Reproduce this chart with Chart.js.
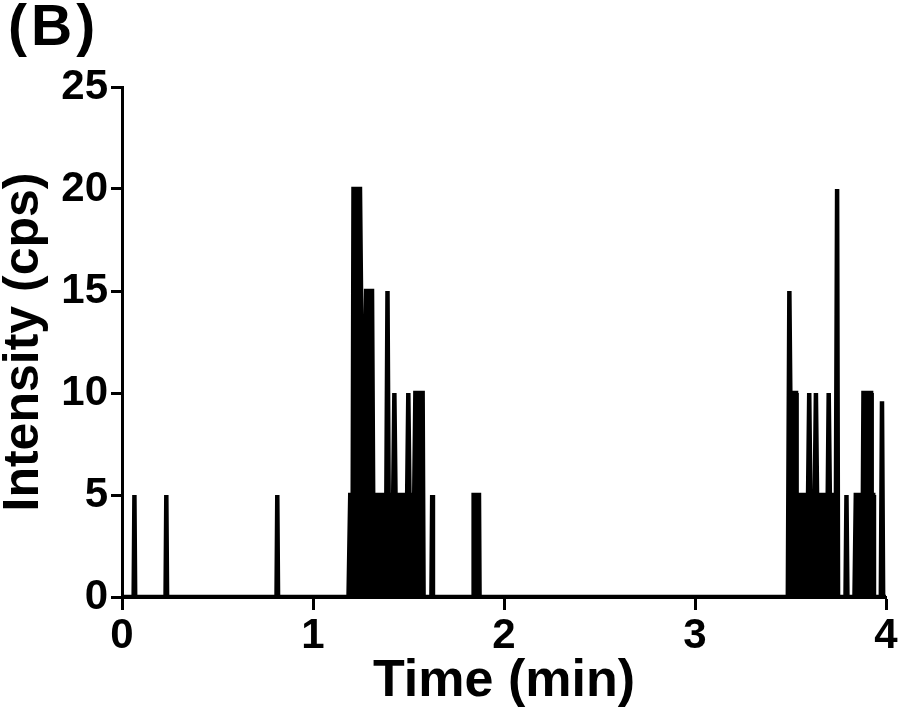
<!DOCTYPE html>
<html>
<head>
<meta charset="utf-8">
<title>Intensity vs time</title>
<script src="https://cdn.jsdelivr.net/npm/chart.js@4.4.1/dist/chart.umd.min.js"></script>
<style>
  html, body { margin: 0; padding: 0; background: #fff; }
  #wrap { width: 900px; height: 727px; }
</style>
</head>
<body>
<div id="wrap"><canvas id="trace" width="900" height="727"></canvas></div>
<script>
// Time (min) and intensity (cps), point by point
var timeMin = [
    0,
    0.061, 0.065, 0.069,
    0.228, 0.232, 0.236,
    0.809, 0.813, 0.817,
    1.186, 1.195, 1.208, 1.212, 1.246, 1.262, 1.278, 1.309, 1.315, 1.384, 1.390,
    1.396, 1.420, 1.426, 1.432, 1.493, 1.499, 1.505, 1.530, 1.536, 1.574, 1.579,
    1.620, 1.624, 1.628,
    1.838, 1.841, 1.869, 1.872,
    3.486, 3.494, 3.499, 3.529, 3.532, 3.592, 3.598, 3.604, 3.627, 3.633, 3.639,
    3.695, 3.700, 3.706, 3.738, 3.744, 3.749, 3.788, 3.793, 3.798, 3.835, 3.842,
    3.879, 3.882, 3.922, 3.925, 3.933, 3.937,
    3.973, 3.979, 3.985,
    4.0
];
var intensityCps = [
    0,
    0, 5, 0,
    0, 5, 0,
    0, 5, 0,
    0, 5, 5, 20, 20, 5, 15, 15, 5, 5, 15,
    5, 5, 10, 5, 5, 10, 5, 5, 10, 10, 0,
    0, 5, 0,
    0, 5, 5, 0,
    0, 15, 10, 10, 5, 5, 10, 5, 5, 10, 5,
    5, 10, 5, 5, 20, 0, 0, 5, 0, 0, 5,
    5, 10, 10, 5, 5, 0,
    0, 9.6, 0,
    0
];
var xTicks = [0, 1, 2, 3, 4];
var yTicks = [0, 5, 10, 15, 20, 25];
var panelText = '(B)';

var FONT = '"Liberation Sans", Arial, Helvetica, sans-serif';

// panel letter in the top left corner
var panelLabel = {
    id: 'panelLabel',
    afterDraw: function(chart) {
        var ctx = chart.ctx;
        ctx.save();
        ctx.font = 'bold 57px ' + FONT;
        ctx.letterSpacing = '4px';
        ctx.fillStyle = '#000';
        ctx.textBaseline = 'top';
        ctx.textAlign = 'left';
        ctx.fillText(panelText, 8, 1);
        ctx.restore();
    }
};

var points = timeMin.map(function(t, i) {
    return { x: t, y: intensityCps[i] };
});

new Chart(document.getElementById('trace'), {
    type: 'line',
    data: {
        datasets: [{
            data: points,
            borderColor: '#000',
            backgroundColor: '#000',
            borderWidth: 4.5,
            fill: 'origin',
            pointRadius: 0,
            tension: 0
        }]
    },
    options: {
        responsive: false,
        animation: false,
        layout: { padding: { top: 87, right: 14, bottom: 0, left: 0 } },
        plugins: {
            legend: { display: false },
            tooltip: { enabled: false }
        },
        scales: {
            x: {
                type: 'linear',
                min: 0,
                max: 4,
                afterBuildTicks: function(s) {
                    s.ticks = xTicks.map(function(v) { return { value: v }; });
                },
                afterFit: function(s) { s.height = 130; },
                ticks: { color: '#000', padding: 1, font: { family: FONT, size: 42, weight: 'bold' } },
                grid: { drawOnChartArea: false, drawTicks: true, tickLength: 13, tickWidth: 3, tickColor: '#000' },
                border: { display: true, color: '#000', width: 3 },
                title: {
                    display: true,
                    text: 'Time (min)',
                    color: '#000',
                    font: { family: FONT, size: 52, weight: 'bold' },
                    padding: { top: 0, bottom: 14 }
                }
            },
            y: {
                type: 'linear',
                min: 0,
                max: 25,
                afterBuildTicks: function(s) {
                    s.ticks = yTicks.map(function(v) { return { value: v }; });
                },
                afterFit: function(s) { s.width = 122; },
                ticks: { color: '#000', padding: 3, font: { family: FONT, size: 42, weight: 'bold' } },
                grid: { drawOnChartArea: false, drawTicks: true, tickLength: 11, tickWidth: 3, tickColor: '#000' },
                border: { display: true, color: '#000', width: 3 },
                title: {
                    display: true,
                    text: 'Intensity (cps)',
                    color: '#000',
                    font: { family: FONT, size: 50, weight: 'bold', lineHeight: 0.96 },
                    padding: { top: 0, bottom: 0 }
                }
            }
        }
    },
    plugins: [panelLabel]
});
</script>
</body>
</html>
